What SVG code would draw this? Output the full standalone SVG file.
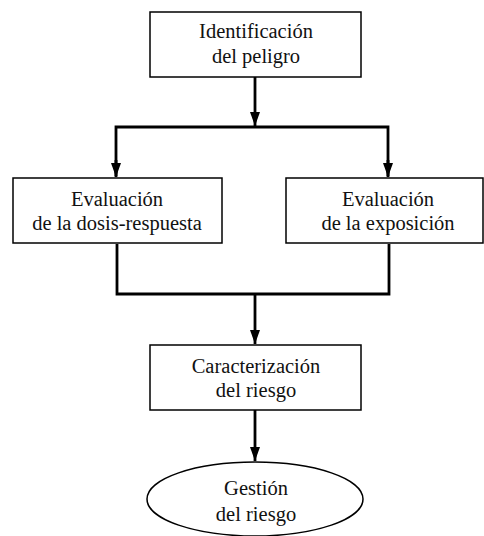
<svg xmlns="http://www.w3.org/2000/svg" width="484" height="536" viewBox="0 0 484 536">
<style>
.box{fill:#fff;stroke:#000;stroke-width:1.5}
.t{font-size:20.5px;text-anchor:middle;fill:#111}
.c{fill:none;stroke:#000;stroke-width:2.8}
</style>
<defs>
<marker id="ah" markerUnits="userSpaceOnUse" markerWidth="16" markerHeight="12" refX="14" refY="5" orient="auto">
<path d="M0,0 L14,5 L0,10 Z" fill="#000"/>
</marker>
</defs>
<rect width="484" height="536" fill="#fff"/>
<g id="connectors">
<line class="c" x1="255" y1="77" x2="255" y2="126" marker-end="url(#ah)"/>
<polyline class="c" points="116,176 116,127 388,127 388,176" />
<line class="c" x1="116" y1="160" x2="116" y2="177" marker-end="url(#ah)"/>
<line class="c" x1="388" y1="160" x2="388" y2="177" marker-end="url(#ah)"/>
<polyline class="c" points="117,244 117,294 389,294 389,244"/>
<line class="c" x1="255" y1="294" x2="255" y2="344" marker-end="url(#ah)"/>
<line class="c" x1="255" y1="410" x2="255" y2="461" marker-end="url(#ah)"/>
</g>
<g font-family="'Liberation Serif', 'Times New Roman', 'DejaVu Serif', serif">
<g id="n1">
<rect class="box" x="150" y="12" width="211" height="65"/>
<text class="t" x="256" y="38">Identificación</text>
<text class="t" x="256" y="63">del peligro</text>
</g>
<g id="n2">
<rect class="box" x="13" y="178" width="209" height="65"/>
<text class="t" x="117" y="206">Evaluación</text>
<text class="t" x="117" y="230">de la dosis-respuesta</text>
</g>
<g id="n3">
<rect class="box" x="286" y="178" width="197" height="65"/>
<text class="t" x="388" y="206">Evaluación</text>
<text class="t" x="388" y="230">de la exposición</text>
</g>
<g id="n4">
<rect class="box" x="150" y="345" width="211" height="65"/>
<text class="t" x="256" y="373">Caracterización</text>
<text class="t" x="256" y="397">del riesgo</text>
</g>
<g id="n5">
<ellipse class="box" cx="255" cy="499" rx="108" ry="37"/>
<text class="t" x="256" y="495">Gestión</text>
<text class="t" x="256" y="521">del riesgo</text>
</g>
</g>
</svg>
